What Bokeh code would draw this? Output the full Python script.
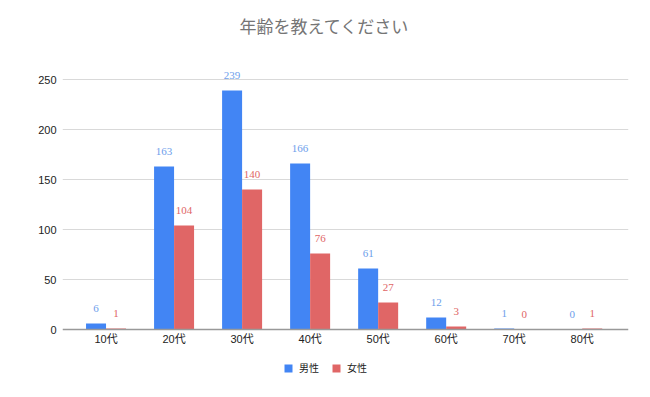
from bokeh.plotting import figure
from bokeh.models import Range1d, FixedTicker, Label, Legend, LegendItem, Span, ColumnDataSource
from bokeh.core.properties import value
from bokeh.embed import file_html
from bokeh.resources import INLINE

title = "年齢を教えてください"
ages = ["10代", "20代", "30代", "40代", "50代", "60代", "70代", "80代"]
male = [6, 163, 239, 166, 61, 12, 1, 0]
female = [1, 104, 140, 76, 27, 3, 0, 1]
y_ticks = [0, 50, 100, 150, 200, 250]
series_names = ["男性", "女性"]

BLUE = "#4285F4"
RED = "#E06666"
SANS = "Liberation Sans, Noto Sans CJK JP"

W, H = 634, 381
FL = 62
ZERO_Y = 329  # pixel row of the baseline
p = figure(width=W, height=H, output_backend="svg", toolbar_location=None,
           x_range=Range1d(-0.64, 7.68), y_range=Range1d(ZERO_Y - H, ZERO_Y))
p.min_border_left = FL
p.min_border_right = 6
p.min_border_top = 0
p.min_border_bottom = 0
p.outline_line_color = None
p.background_fill_color = "white"

xs = list(range(len(ages)))
bw = 0.294
src = ColumnDataSource(dict(
    xm=[x - bw / 2 for x in xs], xf=[x + bw / 2 for x in xs],
    male=male, female=female,
    ml=[str(v) for v in male], fl=[str(v) for v in female]))
cat_src = ColumnDataSource(dict(x=xs, y=[0] * len(xs), label=ages))

p.xgrid.grid_line_color = None
p.ygrid.grid_line_color = "#D9D9D9"
p.ygrid.ticker = FixedTicker(ticks=y_ticks[1:])

rm = p.vbar(x="xm", top="male", width=bw, source=src, color=BLUE, line_color=None)
rf = p.vbar(x="xf", top="female", width=bw, source=src, color=RED, line_color=None)

p.add_layout(Span(location=0, dimension="width", line_color="#999999", line_width=1.5))

p.text(x="xm", y="male", text="ml", source=src, text_align="center", text_baseline="middle",
       y_offset=-15, text_font=value("Liberation Serif"), text_font_size="11px",
       text_color="#6D9EEB")
p.text(x="xf", y="female", text="fl", source=src, text_align="center", text_baseline="middle",
       y_offset=-15, text_font=value("Liberation Serif"), text_font_size="11px",
       text_color=RED)

# category labels under the baseline
p.text(x="x", y="y", text="label", source=cat_src, text_align="center", text_baseline="middle",
       y_offset=9, text_font=value(SANS), text_font_size="11px", text_color="#222222")

p.xaxis.visible = False

p.yaxis.ticker = FixedTicker(ticks=y_ticks)
p.yaxis.axis_line_color = None
p.yaxis.major_tick_line_color = None
p.yaxis.minor_tick_line_color = None
p.yaxis.major_tick_out = 0
p.yaxis.major_tick_in = 0
p.yaxis.major_label_text_font = SANS
p.yaxis.major_label_text_font_size = "11px"
p.yaxis.major_label_text_color = "#222222"
p.yaxis.major_label_standoff = 6

legend = Legend(items=[LegendItem(label=series_names[0], renderers=[rm]),
                       LegendItem(label=series_names[1], renderers=[rf])],
                orientation="horizontal", location=(221, 6))
legend.glyph_width = 10
legend.glyph_height = 10
legend.label_height = 10
legend.label_width = 20
legend.label_text_font = SANS
legend.label_text_font_size = "10px"
legend.label_text_color = "#222222"
legend.spacing = 12
legend.label_standoff = 6
legend.border_line_color = None
legend.background_fill_alpha = 0
legend.padding = 0
legend.margin = 0
p.add_layout(legend, "center")

t = Label(x=324 - FL, y=H - 27, x_units="screen", y_units="screen", text=title,
          text_align="center", text_baseline="middle", text_font=SANS,
          text_font_size="17px", text_color="#757575")
p.add_layout(t)

open("out.html", "w").write(file_html(p, INLINE))
